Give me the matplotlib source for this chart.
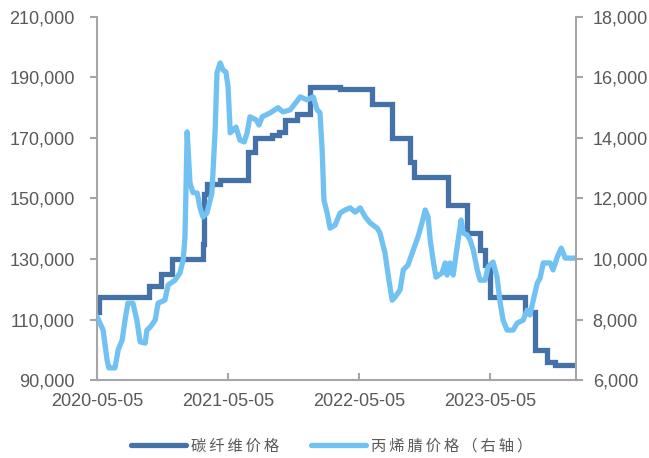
import numpy as np
import pandas as pd
import matplotlib
matplotlib.use("Agg")
import matplotlib.pyplot as plt
import matplotlib.dates as mdates
from matplotlib.ticker import FuncFormatter

plt.rcParams['font.family'] = ['Liberation Sans', 'DejaVu Sans']

# carbon fibre price, left axis (step series)
cf_dates = ['2020-05-05', '2020-05-11', '2020-09-27', '2020-10-30', '2020-11-30',
            '2021-02-24', '2021-02-27', '2021-03-07', '2021-04-13', '2021-06-30',
            '2021-07-19', '2021-09-05', '2021-09-24', '2021-10-11', '2021-11-13',
            '2021-12-19', '2022-03-13', '2022-06-10', '2022-08-05', '2022-09-24',
            '2022-10-05', '2023-01-08', '2023-03-02', '2023-04-07', '2023-04-21',
            '2023-05-05', '2023-08-10', '2023-09-07', '2023-10-11', '2023-11-02',
            '2023-12-30']
cf_price = [112500, 117500, 121000, 125000, 130000,
            135000, 151500, 154800, 156000, 165500,
            170000, 171000, 172000, 176000, 178000,
            186800, 186300, 181200, 170000, 162000,
            157000, 147800, 138500, 133000, 128000,
            117500, 112500, 100000, 96000, 94800,
            94800]

# acrylonitrile price, right axis
an_dates = ['2020-05-05', '2020-05-22', '2020-06-02', '2020-06-07', '2020-06-24',
            '2020-07-03', '2020-07-14', '2020-07-22', '2020-07-30', '2020-08-13',
            '2020-08-24', '2020-09-02', '2020-09-16', '2020-09-21', '2020-09-30',
            '2020-10-14', '2020-10-22', '2020-11-10', '2020-11-19', '2020-12-08',
            '2020-12-22', '2020-12-31', '2021-01-05', '2021-01-11', '2021-01-19',
            '2021-01-27', '2021-02-08', '2021-02-16', '2021-02-24', '2021-03-07',
            '2021-03-21', '2021-03-30', '2021-04-04', '2021-04-13', '2021-04-21',
            '2021-04-29', '2021-05-05', '2021-05-11', '2021-05-19', '2021-05-27',
            '2021-06-07', '2021-06-19', '2021-06-27', '2021-07-05', '2021-07-22',
            '2021-07-30', '2021-08-08', '2021-08-30', '2021-09-21', '2021-10-05',
            '2021-10-25', '2021-11-22', '2021-12-11', '2021-12-28', '2022-01-08',
            '2022-01-16', '2022-01-22', '2022-01-27', '2022-02-05', '2022-02-13',
            '2022-02-27', '2022-03-13', '2022-03-27', '2022-04-10', '2022-04-24',
            '2022-05-08', '2022-05-22', '2022-06-05', '2022-06-24', '2022-07-02',
            '2022-07-16', '2022-07-27', '2022-08-05', '2022-08-13', '2022-08-27',
            '2022-09-05', '2022-09-18', '2022-09-30', '2022-10-16', '2022-10-27',
            '2022-11-05', '2022-11-13', '2022-11-19', '2022-11-27', '2022-12-05',
            '2022-12-22', '2022-12-31', '2023-01-05', '2023-01-13', '2023-01-22',
            '2023-02-02', '2023-02-13', '2023-02-19', '2023-03-02', '2023-03-10',
            '2023-03-19', '2023-03-30', '2023-04-07', '2023-04-21', '2023-04-29',
            '2023-05-13', '2023-05-24', '2023-06-02', '2023-06-10', '2023-06-21',
            '2023-07-08', '2023-07-19', '2023-08-05', '2023-08-16', '2023-08-24',
            '2023-09-02', '2023-09-13', '2023-09-21', '2023-09-30', '2023-10-19',
            '2023-10-27', '2023-11-08', '2023-11-19', '2023-11-30', '2023-12-14',
            '2023-12-30']
an_price = [8100, 7650, 6660, 6400, 6400,
            7000, 7320, 7980, 8540, 8540,
            7980, 7260, 7220, 7650, 7750,
            7980, 8540, 8640, 9140, 9300,
            9540, 9970, 10730, 14200, 12510,
            12200, 12180, 11690, 11390, 11520,
            12180, 14270, 16150, 16480, 16250,
            16180, 15690, 14170, 14260, 14360,
            13930, 13870, 14170, 14700, 14600,
            14430, 14700, 14830, 15000, 14860,
            14930, 15360, 15260, 15360, 14930,
            14830, 13600, 11950, 11520, 11020,
            11120, 11520, 11620, 11690, 11550,
            11690, 11390, 11190, 11020, 10860,
            10200, 9300, 8640, 8740, 8980,
            9640, 9800, 10200, 10730, 11190,
            11620, 11390, 10630, 9970, 9400,
            9540, 9870, 9470, 9870, 9470,
            10400, 11290, 10860, 10790, 10630,
            10300, 9640, 9300, 9300, 9740,
            9900, 9400, 8540, 7980, 7650,
            7650, 7880, 7980, 8310, 8150,
            8640, 9200, 9370, 9870, 9870,
            9640, 10070, 10360, 10030, 10030,
            10030]

tick_dates = ['2020-05-05', '2021-05-05', '2022-05-05', '2023-05-05']
names = ['碳纤维价格', '丙烯腈价格（右轴）']

dark = '#4472A8'
light = '#71C2F2'
grey = '#A6A6A6'
txt = '#595959'

fig = plt.figure(figsize=(6.49, 4.58), dpi=100)
ax = fig.add_axes([0.1495, 0.1703, 0.738, 0.7926])
ax2 = ax.twinx()

l1, = ax.plot(pd.to_datetime(cf_dates), cf_price, color=dark, lw=3.8,
              drawstyle='steps-post', solid_joinstyle='miter',
              solid_capstyle='round')
l2, = ax2.plot(pd.to_datetime(an_dates), an_price, color=light, lw=3.8,
               solid_joinstyle='round', solid_capstyle='round')

ax.set_xlim(pd.Timestamp('2020-05-05'), pd.Timestamp('2023-12-30'))
ax.set_ylim(90000, 210000)
ax2.set_ylim(6000, 18000)
ax.set_yticks(np.arange(90000, 210001, 20000))
ax2.set_yticks(np.arange(6000, 18001, 2000))
ax.set_xticks(pd.to_datetime(tick_dates))
ax.xaxis.set_major_formatter(mdates.DateFormatter('%Y-%m-%d'))

fmt = FuncFormatter(lambda v, p: f'{int(v):,}')
ax.yaxis.set_major_formatter(fmt)
ax2.yaxis.set_major_formatter(fmt)

for a in (ax, ax2):
    a.spines['top'].set_visible(False)
    for s in ('left', 'right', 'bottom'):
        a.spines[s].set_color(grey)
        a.spines[s].set_linewidth(1.5)
ax.spines['right'].set_visible(False)
ax2.spines['left'].set_visible(False)
ax2.spines['bottom'].set_visible(False)

ax.tick_params(axis='y', direction='out', length=5, width=1.5, color=grey,
               labelsize=13, labelcolor=txt, pad=11)
ax.tick_params(axis='x', direction='in', length=5, width=1.5, color=grey,
               labelsize=13, labelcolor=txt, pad=9)
ax2.tick_params(axis='y', direction='out', length=5, width=1.5, color=grey,
                labelsize=13, labelcolor=txt, pad=7)

# legend labels spaced out with thin spaces
labels = ['\u2009'.join(n) for n in names]
fig.legend([l1, l2], labels, loc='center',
           bbox_to_anchor=(0.511, 0.026), ncol=2, frameon=False,
           handlelength=3.6, handletextpad=0.33, columnspacing=2.1,
           prop={'family': ['Noto Sans CJK SC', 'DejaVu Sans'], 'size': 11},
           labelcolor=txt)

fig.savefig('out.png', dpi=100)
